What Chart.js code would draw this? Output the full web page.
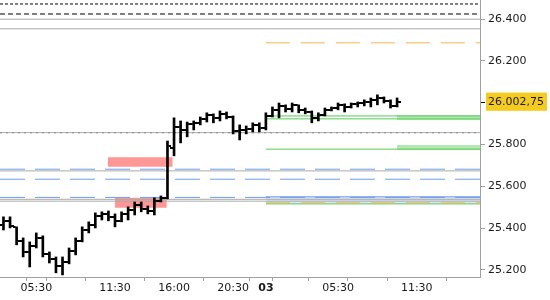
<!DOCTYPE html>
<html>
<head>
<meta charset="utf-8">
<script src="https://cdn.jsdelivr.net/npm/chart.js@4.4.0/dist/chart.umd.min.js"></script>
<style>
  html, body { margin: 0; padding: 0; background: #fff; }
  #wrap { width: 550px; height: 300px; }
</style>
</head>
<body>
<div id="wrap"><canvas id="c"></canvas></div>
<script>
// 30 minute bars: day 2 03:00-22:30, day 3 00:00-10:00 (23:00-00:00 is the daily break)
const times = [
  '03:00','03:30','04:00','04:30','05:00','05:30','06:00','06:30','07:00','07:30',
  '08:00','08:30','09:00','09:30','10:00','10:30','11:00','11:30','12:00','12:30',
  '13:00','13:30','14:00','14:30','15:00','15:30','16:00','16:30','17:00','17:30',
  '18:00','18:30','19:00','19:30','20:00','20:30','21:00','21:30','22:00','22:30',
  '00:00','00:30','01:00','01:30','02:00','02:30','03:00','03:30','04:00','04:30',
  '05:00','05:30','06:00','06:30','07:00','07:30','08:00','08:30','09:00','09:30','10:00'
];
const opens = [
  25415, 25435, 25406, 25339, 25286, 25315, 25353, 25277, 25253, 25219,
  25238, 25291, 25339, 25391, 25415, 25458, 25468, 25454, 25435, 25468,
  25487, 25511, 25492, 25482, 25530, 25545, 25784, 25885, 25870, 25899,
  25904, 25923, 25942, 25928, 25947, 25932, 25865, 25870, 25875, 25894,
  25880, 25937, 25966, 25985, 25971, 25990, 25966, 25956, 25928, 25942,
  25966, 25975, 25990, 25980, 25995, 25999, 26004, 26014, 26023, 26009, 25985
];
const highs = [
  25454, 25454, 25406, 25353, 25334, 25377, 25363, 25286, 25262, 25262,
  25305, 25353, 25406, 25430, 25473, 25478, 25482, 25468, 25478, 25502,
  25525, 25525, 25506, 25545, 25554, 25817, 25928, 25913, 25908, 25913,
  25932, 25952, 25947, 25961, 25956, 25937, 25894, 25889, 25904, 25904,
  25952, 25980, 25999, 25990, 25999, 25990, 25975, 25961, 25952, 25975,
  25980, 25999, 25995, 25999, 26004, 26014, 26023, 26038, 26028, 26014, 26023
];
const lows = [
  25391, 25401, 25320, 25262, 25214, 25305, 25262, 25233, 25186, 25176,
  25229, 25272, 25334, 25377, 25401, 25439, 25435, 25406, 25430, 25439,
  25463, 25478, 25468, 25463, 25525, 25540, 25746, 25808, 25837, 25870,
  25894, 25908, 25904, 25913, 25923, 25851, 25822, 25851, 25861, 25861,
  25870, 25932, 25928, 25956, 25956, 25952, 25947, 25904, 25913, 25937,
  25961, 25966, 25956, 25975, 25980, 25985, 25980, 25990, 25999, 25975, 25980
];
const closes = [
  25435, 25411, 25339, 25286, 25315, 25353, 25277, 25253, 25219, 25238,
  25291, 25339, 25391, 25415, 25458, 25468, 25454, 25435, 25468, 25487,
  25511, 25492, 25482, 25530, 25545, 25794, 25885, 25870, 25899, 25904,
  25923, 25942, 25928, 25947, 25932, 25865, 25870, 25875, 25894, 25880,
  25937, 25966, 25985, 25971, 25990, 25966, 25956, 25928, 25942, 25966,
  25975, 25990, 25980, 25995, 25999, 26004, 26014, 26023, 26009, 25985, 26002.75
];

// x axis in bar slots
const X_MIN = -0.53, X_MAX = 72.64;
const xTickPos  = [5, 8, 17, 26, 35, 40, 42, 51, 54, 63, 72];
const xTickText = ['05:30', '', '11:30', '16:00', '20:30', '03', '', '05:30', '', '11:30', ''];
const yTicks = [25200, 25400, 25600, 25800, 26200, 26400];

// horizontal levels (price, first bar slot)
const levelPrices = [26473, 26425, 26400, 26354, 26287, 25937, 25923, 25857, 25857, 25778,
                     25682, 25674, 25634, 25547, 25538, 25529, 25521, 25516];
const levelStarts = [X_MIN, X_MIN, X_MIN, X_MIN, 40, 40, 40, X_MIN, X_MIN, 40,
                     X_MIN, X_MIN, X_MIN, X_MIN, X_MIN, X_MIN, 40, 40];
// zones
const boxLow   = [25694, 25497, 25918, 25774, 25516];
const boxHigh  = [25739, 25545, 25942, 25798, 25550];
const boxStart = [15.9, 17.0, 60, 60, 40];
const boxEnd   = [25.8, 24.9, X_MAX, X_MAX, X_MAX];

const levelStyle = [
  { c: '#000', d: [3, 2] }, { c: '#000', d: [5, 3] }, { c: '#a9a9a9', d: [] }, { c: '#a9a9a9', d: [] },
  { c: '#f2b84b', d: [24, 11] }, { c: '#55cc55', d: [] }, { c: '#55cc55', d: [] },
  { c: '#a9a9a9', d: [] }, { c: '#000', d: [2, 4] }, { c: '#55cc55', d: [] },
  { c: '#6f9df0', d: [25, 10] }, { c: '#a9a9a9', d: [] }, { c: '#6f9df0', d: [25, 10] },
  { c: '#6f9df0', d: [25, 10] }, { c: '#a9a9a9', d: [] }, { c: '#a9a9a9', d: [] },
  { c: '#f2b84b', d: [24, 11] }, { c: '#55cc55', d: [] }
];
const boxStyle = [
  { bg: '#ff9797', bc: 'rgba(0,0,0,0)', bw: 0 },
  { bg: '#ff9797', bc: 'rgba(0,0,0,0)', bw: 0 },
  { bg: '#b3e8b3', bc: 'rgba(0,0,0,0)', bw: 0 },
  { bg: '#b3e8b3', bc: 'rgba(0,0,0,0)', bw: 0 },
  { bg: '#dde6f7', bc: '#6f9df0', bw: 1 }
];

const lastClose = closes[closes.length - 1];

function fmtPrice(v) {
  const whole = Math.floor(v);
  const frac = Math.round((v - whole) * 100);
  const s = String(whole).replace(/\B(?=(\d{3})+(?!\d))/g, '.');
  return frac ? s + ',' + String(frac).padStart(2, '0') : s;
}

// open tick on the left, close tick on the right of the 2px body
function tickImg(side) {
  const c = document.createElement('canvas');
  c.width = 8; c.height = 2;
  const g = c.getContext('2d');
  g.fillStyle = '#000';
  g.fillRect(side === 'open' ? 0 : 5, 0, 3, 2);
  return c;
}

// no extra room around the plot for half labels
function noPad(ax) {
  ax.paddingTop = 0; ax.paddingBottom = 0; ax.paddingLeft = 0; ax.paddingRight = 0;
}

const datasets = [
  {
    type: 'bar',
    data: times.map((t, i) => ({ x: i, y: [lows[i], highs[i]] })),
    backgroundColor: '#000',
    barThickness: 2,
    grouped: false
  },
  {
    type: 'line',
    data: times.map((t, i) => ({ x: i, y: opens[i] })),
    showLine: false, pointStyle: tickImg('open'), pointRadius: 3, pointHoverRadius: 3
  },
  {
    type: 'line',
    data: times.map((t, i) => ({ x: i, y: closes[i] })),
    showLine: false, pointStyle: tickImg('close'), pointRadius: 3, pointHoverRadius: 3
  }
];

levelPrices.forEach((p, k) => {
  datasets.push({
    type: 'line',
    data: [{ x: levelStarts[k], y: p }, { x: X_MAX, y: p }],
    borderColor: levelStyle[k].c,
    borderDash: levelStyle[k].d,
    borderWidth: 1,
    pointRadius: 0,
    fill: false
  });
});

boxHigh.forEach((h, k) => {
  datasets.push({
    type: 'line',
    data: [{ x: boxStart[k], y: h }, { x: boxEnd[k], y: h }],
    borderColor: boxStyle[k].bc,
    borderWidth: boxStyle[k].bw,
    backgroundColor: boxStyle[k].bg,
    pointRadius: 0,
    fill: { value: boxLow[k] }
  });
});

const FONT = 'DejaVu Sans';

new Chart(document.getElementById('c'), {
  type: 'line',
  data: { datasets },
  options: {
    responsive: true,
    maintainAspectRatio: false,
    animation: false,
    devicePixelRatio: 1,
    events: [],
    layout: { padding: 0, autoPadding: false },
    plugins: { legend: { display: false }, tooltip: { enabled: false } },
    scales: {
      x: {
        type: 'linear',
        min: X_MIN,
        max: X_MAX,
        offset: false,
        afterBuildTicks: ax => { ax.ticks = xTickPos.map(v => ({ value: v })); },
        afterFit: ax => { ax.height = 23; noPad(ax); },
        grid: { drawOnChartArea: false, tickLength: 4, color: '#a0a0a0' },
        border: { color: '#a0a0a0' },
        ticks: {
          autoSkip: false,
          maxRotation: 0,
          padding: 1,
          color: '#1a1a1a',
          font: ctx => ({ family: FONT, size: 11, weight: xTickText[ctx.index] === '03' ? 'bold' : 'normal' }),
          callback: (v, i) => xTickText[i]
        }
      },
      y: {
        type: 'linear',
        position: 'right',
        min: 25166,
        max: 26492,
        afterBuildTicks: ax => { ax.ticks = yTicks.concat([lastClose]).map(v => ({ value: v })); },
        afterFit: ax => { ax.width = 70; noPad(ax); },
        grid: {
          drawOnChartArea: false,
          tickLength: 5,
          color: '#a0a0a0',
          tickColor: ctx => (ctx.tick && ctx.tick.value === lastClose) ? '#000' : '#a0a0a0'
        },
        border: { color: '#a0a0a0' },
        ticks: {
          autoSkip: false,
          padding: 3,
          color: '#1a1a1a',
          font: { family: FONT, size: 11 },
          callback: v => fmtPrice(v),
          showLabelBackdrop: ctx => !!(ctx.tick && ctx.tick.value === lastClose),
          backdropColor: '#f5cb1e',
          backdropPadding: { top: 3, bottom: 2, left: 2, right: 3 }
        }
      }
    }
  }
});
</script>
</body>
</html>
